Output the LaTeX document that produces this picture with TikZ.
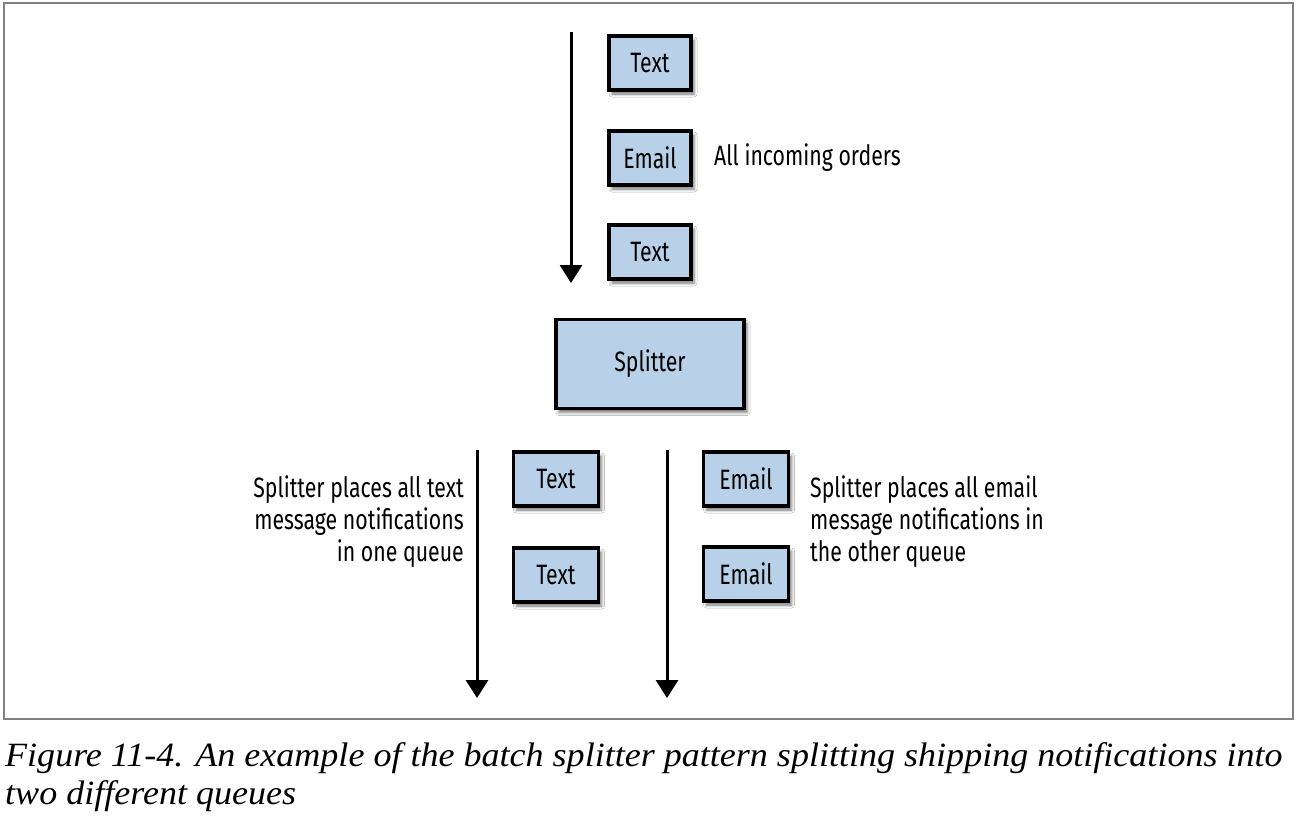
\documentclass[tikz,border=0pt]{standalone}
\usepackage{fontspec}
\setmainfont{Liberation Serif}
\newfontfamily\boxfont[FakeStretch=0.76]{Fira Sans}
\newfontfamily\capfont[FakeStretch=1.06]{Liberation Serif}
\usetikzlibrary{arrows.meta,shadows.blur}
\definecolor{boxblue}{RGB}{184,208,232}
\definecolor{framegray}{RGB}{128,128,128}
\tikzset{
  msg/.style={draw=black, line width=3.5pt, fill=boxblue,
    minimum width=82pt, minimum height=54pt, inner sep=0pt,
    blur shadow={shadow xshift=3pt, shadow yshift=-4pt, shadow blur radius=3pt, shadow opacity=55},
    font=\boxfont\fontsize{28}{32}\selectfont},
  lbl/.style={inner sep=0pt, font=\boxfont\fontsize{28}{32}\selectfont},
  flow/.style={line width=3pt, -{Triangle[width=22pt,length=18pt]}},
}
\begin{document}
\begin{tikzpicture}[x=1pt,y=-1pt]
\useasboundingbox (0,0) rectangle (1296,830);
\fill[white] (0,0) rectangle (1296,830);
\draw[framegray, line width=1.5pt] (4,3) rectangle (1293,719);
% top queue
\node[msg] (t1) at (650,63) {Text};
\node[msg] (e1) at (650,158) {Email};
\node[msg] (t2) at (650,252) {Text};
\node[lbl, anchor=west] (inc) at (714,158) {All incoming orders};
\coordinate (a0) at (571,32);
\coordinate (a1) at (571,283);
\draw[flow] (a0) -- (a1);
% splitter
\node[msg, minimum width=188pt, minimum height=89pt] (sp) at (650,364) {Splitter};
% left queue
\node[msg, minimum width=85pt] (lt1) at (556,479) {Text};
\node[msg, minimum width=85pt] (lt2) at (556,575) {Text};
\coordinate (l0) at (477,450);
\coordinate (l1) at (477,698);
\draw[flow] (l0) -- (l1);
\node[lbl, anchor=east, align=right] (ltxt) at (464,522) {Splitter places all text\\message notifications\\in one queue};
% right queue
\node[msg, minimum width=85pt] (re1) at (746,479) {Email};
\node[msg, minimum width=85pt] (re2) at (746,574) {Email};
\coordinate (r0) at (667,450);
\coordinate (r1) at (667,698);
\draw[flow] (r0) -- (r1);
\node[lbl, anchor=west, align=left] (rtxt) at (810,522) {Splitter places all email\\message notifications in\\the other queue};
% caption
\node[anchor=base west, inner sep=0pt, align=left, font=\capfont\itshape\fontsize{34}{38}\selectfont] (cap) at (5,804)
  {Figure 11-4. An example of the batch splitter pattern splitting shipping notifications into\\two different queues};
\end{tikzpicture}
\end{document}
